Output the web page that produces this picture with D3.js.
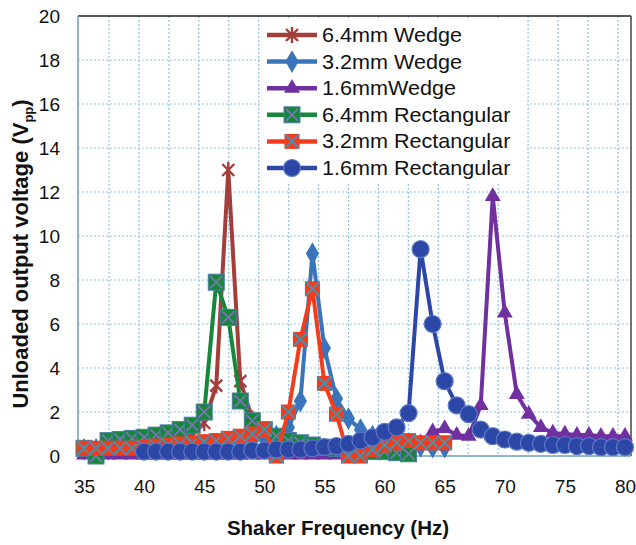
<!DOCTYPE html>
<html>
<head>
<meta charset="utf-8">
<script src="https://cdn.jsdelivr.net/npm/d3@7"></script>
<style>
  body { margin: 0; background: #fff; }
  text { font-family: Arial, "Liberation Sans", sans-serif; fill: #111; }
</style>
</head>
<body>
<svg id="chart" width="636" height="545"></svg>
<script>
// Shaker frequency sweep (Hz)
const freqs = [35,36,37,38,39,40,41,42,43,44,45,46,47,48,49,50,51,52,53,54,55,56,57,58,59,60,
               61,62,63,64,65,66,67,68,69,70,71,72,73,74,75,76,77,78,79,80];

// Unloaded output voltage (Vpp) per harvester, aligned with freqs (null = not measured)
const wedge64 = [0.3,0.3,0.35,0.4,0.45,0.5,0.55,0.65,0.75,0.95,1.5,3.2,13.0,3.4,1.7,1.1,0.8,0.65,0.55,0.5,
                 0.45,0.4,0.4,0.35,0.35,0.3,
                 null,null,null,null,null,null,null,null,null,null,null,null,null,null,null,null,null,null,null,null];
const wedge32 = [0.3,0.3,0.3,0.35,0.35,0.4,0.4,0.45,0.45,0.5,0.5,0.55,0.6,0.65,0.7,0.8,0.9,1.3,2.5,9.2,
                 4.9,2.6,1.7,1.2,0.9,0.7,0.6,0.5,0.45,0.4,0.4,
                 null,null,null,null,null,null,null,null,null,null,null,null,null,null,null];
const wedge16 = [0.05,0.05,0.05,0.05,0.05,0.05,0.05,0.05,0.05,0.05,0.05,0.05,0.05,0.05,0.05,0.05,0.05,0.05,
                 0.05,0.05,0.05,0.05,0.05,0.05,0.1,0.15,0.25,0.35,0.6,1.1,1.25,0.95,0.9,2.3,11.8,6.5,
                 2.8,1.9,1.3,1.05,1.0,0.95,0.95,0.9,0.9,0.9];
const rect64 = [0.35,0.0,0.7,0.75,0.8,0.85,0.95,1.05,1.2,1.4,2.0,7.9,6.3,2.5,1.6,1.2,0.9,0.7,0.6,0.5,
                0.4,0.35,0.3,0.25,0.2,0.2,0.15,0.1,
                null,null,null,null,null,null,null,null,null,null,null,null,null,null,null,null,null,null];
const rect32 = [0.35,0.35,0.35,0.35,0.35,0.4,0.45,0.5,0.55,0.6,0.65,0.7,0.8,0.9,1.0,1.2,0.0,2.0,5.3,7.6,
                3.3,1.9,0.0,0.0,0.3,0.5,0.6,0.7,0.6,0.6,0.6,
                null,null,null,null,null,null,null,null,null,null,null,null,null,null,null];
const rect16 = [null,null,null,null,null,
                0.2,0.2,0.2,0.2,0.2,0.2,0.2,0.2,0.2,0.25,0.25,0.3,0.3,0.3,0.35,0.4,0.45,0.55,0.7,0.85,
                1.1,1.3,1.95,9.4,6.0,3.4,2.3,1.9,1.2,0.9,0.75,0.65,0.6,0.55,0.5,0.5,0.45,0.45,0.4,0.4,0.4];

const seriesNames = ["6.4mm Wedge","3.2mm Wedge","1.6mmWedge","6.4mm Rectangular","3.2mm Rectangular","1.6mm Rectangular"];
const seriesValues = [wedge64, wedge32, wedge16, rect64, rect32, rect16];

const xTickValues = [35,40,45,50,55,60,65,70,75,80];
const yTickValues = [0,2,4,6,8,10,12,14,16,18,20];

// Styling per series
const styles = [
  { color: "#A33E3B", marker: "star" },
  { color: "#3A74BA", marker: "diamond" },
  { color: "#7030A0", marker: "triangle" },
  { color: "#16873A", marker: "squareX" },
  { color: "#F23C1C", marker: "redX" },
  { color: "#2C47A6", marker: "circle" }
];

const svg = d3.select("#chart");
const x = d3.scaleLinear().domain([34.5, 80.5]).range([78, 631]);
const y = d3.scaleLinear().domain([0, 20]).range([456, 16]);
const [x0, x1] = x.range();
const [yb, yt] = y.range();

// Gridlines
const gridColor = "#8EC3E6";
const vGrid = d3.range(37.08, 80.2, 2.49);
svg.append("g").selectAll("line").data(vGrid).join("line")
  .attr("x1", d => x(d)).attr("x2", d => x(d))
  .attr("y1", yt).attr("y2", yb)
  .attr("stroke", gridColor).attr("stroke-width", 1.2).attr("stroke-dasharray", "2,2");
svg.append("g").selectAll("line").data(yTickValues.filter(v => v > 0 && v < 20)).join("line")
  .attr("x1", x0).attr("x2", x1)
  .attr("y1", d => y(d)).attr("y2", d => y(d))
  .attr("stroke", gridColor).attr("stroke-width", 1.2).attr("stroke-dasharray", "2,2");

// Frame
svg.append("line").attr("x1", x0).attr("x2", x1).attr("y1", yt).attr("y2", yt).attr("stroke", "#222").attr("stroke-width", 1.5);
svg.append("line").attr("x1", x1).attr("x2", x1).attr("y1", yt).attr("y2", yb).attr("stroke", "#444").attr("stroke-width", 1.5);
svg.append("line").attr("x1", x0).attr("x2", x0).attr("y1", yt).attr("y2", yb).attr("stroke", "#6E9FB8").attr("stroke-width", 1.5);
svg.append("line").attr("x1", x0).attr("x2", x1).attr("y1", yb).attr("y2", yb).attr("stroke", "#6E9FB8").attr("stroke-width", 1.5);

// Axes (labels only)
const xAxis = svg.append("g").attr("transform", `translate(0,${yb})`)
  .call(d3.axisBottom(x).tickValues(xTickValues).tickSize(0).tickPadding(24));
const yAxis = svg.append("g").attr("transform", `translate(${x0},0)`)
  .call(d3.axisLeft(y).tickValues(yTickValues).tickSize(0).tickPadding(18));
[xAxis, yAxis].forEach(g => {
  g.select(".domain").remove();
  g.selectAll("text").style("font-size", "19px").style("font-family", "Arial, 'Liberation Sans', sans-serif").attr("fill", "#111");
});

// Axis titles
svg.append("text").attr("x", 338).attr("y", 535).attr("text-anchor", "middle")
  .style("font-size", "20.5px").style("font-weight", "bold").text("Shaker Frequency (Hz)");
const yTitle = svg.append("text").attr("transform", "translate(28,254) rotate(-90)")
  .attr("text-anchor", "middle").style("font-size", "22px").style("font-weight", "bold");
yTitle.append("tspan").text("Unloaded output voltage (V");
yTitle.append("tspan").attr("dy", 5).style("font-size", "13px").text("pp");
yTitle.append("tspan").attr("dy", -5).text(")");

// Marker drawing
function drawMarker(g, type, color) {
  if (type === "circle") {
    g.append("circle").attr("r", 8.5).attr("fill", color).attr("stroke", "#5B78C9").attr("stroke-width", 1.2);
  } else if (type === "diamond") {
    g.append("path").attr("d", d3.symbol(d3.symbolDiamond, 150)()).attr("fill", color);
  } else if (type === "triangle") {
    g.append("path").attr("d", d3.symbol(d3.symbolTriangle, 110)()).attr("fill", color);
  } else if (type === "squareX") {
    g.append("rect").attr("x", -8).attr("y", -8).attr("width", 16).attr("height", 16)
      .attr("fill", color).attr("stroke", "#4E7FA8").attr("stroke-width", 1);
    g.append("path").attr("d", "M-6,-6L6,6M-6,6L6,-6").attr("stroke", "#7A74B4").attr("stroke-width", 1.8);
  } else if (type === "redX") {
    g.append("rect").attr("x", -7.5).attr("y", -7.5).attr("width", 15).attr("height", 15).attr("fill", color);
    g.append("path").attr("d", "M-7,-7L7,7M-7,7L7,-7").attr("stroke", "#3F93B4").attr("stroke-width", 2);
  } else if (type === "star") {
    g.append("path").attr("d", "M-6,-6L6,6M-6,6L6,-6M0,-8L0,8").attr("stroke", color).attr("stroke-width", 2.4);
  }
}

// Series lines and markers
const line = d3.line().defined(d => d.v !== null).x(d => x(d.f)).y(d => y(d.v));
seriesValues.forEach((vals, i) => {
  const pts = freqs.map((f, j) => ({ f, v: vals[j] }));
  const g = svg.append("g");
  g.append("path").datum(pts).attr("d", line).attr("fill", "none")
    .attr("stroke", styles[i].color).attr("stroke-width", 4).attr("stroke-linejoin", "round");
  pts.filter(p => p.v !== null).forEach(p => {
    drawMarker(g.append("g").attr("transform", `translate(${x(p.f)},${y(p.v)})`), styles[i].marker, styles[i].color);
  });
});

// Legend
const legend = svg.append("g");
legend.append("rect").attr("x", 262).attr("y", 18).attr("width", 265).attr("height", 164).attr("fill", "#fff");
seriesNames.forEach((name, i) => {
  const ry = 35 + i * 26.6;
  const row = legend.append("g").attr("transform", `translate(0,${ry})`);
  row.append("line").attr("x1", 267).attr("x2", 317).attr("stroke", styles[i].color).attr("stroke-width", 4.5);
  drawMarker(row.append("g").attr("transform", "translate(292,0)"), styles[i].marker, styles[i].color);
  row.append("text").attr("x", 322).attr("y", 7).style("font-size", "20px")
    .attr("transform", "translate(322,0) scale(1.08,1) translate(-322,0)").text(name);
});
</script>
</body>
</html>
